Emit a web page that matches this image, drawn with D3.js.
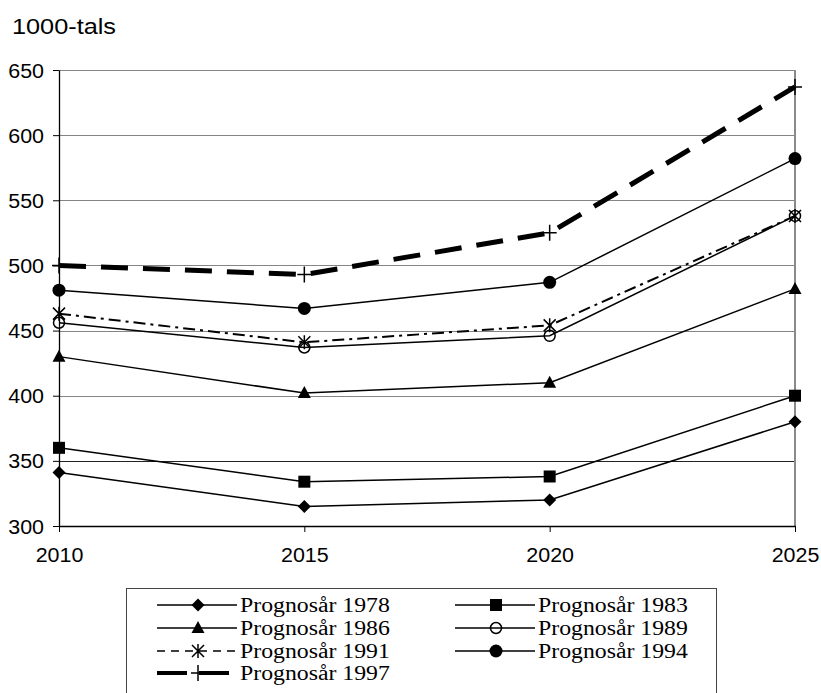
<!DOCTYPE html>
<html>
<head>
<meta charset="utf-8">
<script src="https://cdn.jsdelivr.net/npm/d3@7"></script>
<style>
  html, body { margin: 0; padding: 0; background: #fff; }
  svg { display: block; }
</style>
</head>
<body>
<script>
// Forecast values (thousands) per forecast year
const years = ["2010", "2015", "2020", "2025"];
const yTicks = [300, 350, 400, 450, 500, 550, 600, 650];
const unitLabel = "1000-tals";

const v1978 = [341, 315, 320, 380];
const v1983 = [360, 334, 338, 400];
const v1986 = [430, 402, 410, 482];
const v1989 = [456, 437, 446, 538];
const v1991 = [463, 441, 454, 538];
const v1994 = [481, 467, 487, 582];
const v1997 = [500, 493, 525, 637];

const seriesNames = ["Prognosår 1978", "Prognosår 1983", "Prognosår 1986", "Prognosår 1989",
                     "Prognosår 1991", "Prognosår 1994", "Prognosår 1997"];
const seriesValues = [v1978, v1983, v1986, v1989, v1991, v1994, v1997];

// Drawing style for each series (same order as names)
const styles = [
  { marker: "diamond",  width: 1.5, dash: null },
  { marker: "square",   width: 1.5, dash: null },
  { marker: "triangle", width: 1.5, dash: null },
  { marker: "ring",     width: 1.5, dash: null },
  { marker: "star",     width: 2,   dash: "12,5,3,5" },
  { marker: "dot",      width: 1.5, dash: null },
  { marker: "plus",     width: 5,   dash: "27,15" }
];

const W = 821, H = 693;
const sansFont = "'Liberation Sans', Arial, sans-serif";
const serifFont = "'Liberation Serif', 'Times New Roman', serif";

const svg = d3.select("body").append("svg")
  .attr("width", W).attr("height", H);

const x = d3.scalePoint().domain(years).range([59, 795]);
const y = d3.scaleLinear().domain([300, 650]).range([526, 70]);

// Horizontal gridlines
svg.append("g")
  .selectAll("line")
  .data(yTicks.filter(t => t > 300))
  .join("line")
  .attr("x1", x.range()[0]).attr("x2", x.range()[1])
  .attr("y1", d => Math.round(y(d)) + 0.5).attr("y2", d => Math.round(y(d)) + 0.5)
  .attr("stroke", d => d === 350 ? "#222" : "#858585")
  .attr("stroke-width", 1);

// Right frame edge
svg.append("line")
  .attr("x1", x.range()[1]).attr("x2", x.range()[1])
  .attr("y1", y(650)).attr("y2", y(300))
  .attr("stroke", "#8a8a8a").attr("stroke-width", 2);

// Y axis
const yAxis = svg.append("g")
  .attr("transform", `translate(${x.range()[0]},0)`)
  .call(d3.axisLeft(y).tickValues(yTicks).tickSize(6).tickSizeOuter(0).tickFormat(d3.format("d")));
yAxis.select(".domain").attr("stroke", "#000").attr("stroke-width", 1.3);
yAxis.selectAll(".tick line").attr("stroke", "#000");
yAxis.selectAll(".tick text")
  .attr("x", null).attr("dy", null)
  .attr("transform", "translate(-15,7) scale(1.1,1)")
  .attr("text-anchor", "end")
  .style("font-family", sansFont).style("font-size", "19.5px").attr("fill", "#000");

// X axis
const xAxis = svg.append("g")
  .attr("transform", `translate(0,${y(300)})`)
  .call(d3.axisBottom(x).tickSize(6).tickSizeOuter(0));
xAxis.select(".domain").attr("stroke", "#000").attr("stroke-width", 1.3);
xAxis.selectAll(".tick line").attr("stroke", "#000");
xAxis.selectAll(".tick text")
  .attr("y", null).attr("dy", null)
  .attr("transform", "translate(0,36) scale(1.1,1)")
  .attr("text-anchor", "middle")
  .style("font-family", sansFont).style("font-size", "19.5px").attr("fill", "#000");

// Unit label
svg.append("text")
  .attr("transform", "translate(12,34) scale(1.15,1)")
  .style("font-family", sansFont).style("font-size", "22px")
  .text(unitLabel);

// Marker shapes
function drawMarker(g, kind, cx, cy) {
  switch (kind) {
    case "diamond":
      g.append("path")
        .attr("d", `M${cx},${cy - 6.5}L${cx + 6.5},${cy}L${cx},${cy + 6.5}L${cx - 6.5},${cy}Z`)
        .attr("fill", "#000");
      break;
    case "square":
      g.append("rect").attr("x", cx - 6).attr("y", cy - 6).attr("width", 12).attr("height", 12)
        .attr("fill", "#000");
      break;
    case "triangle":
      g.append("path")
        .attr("d", `M${cx},${cy - 7}L${cx + 6.5},${cy + 5}L${cx - 6.5},${cy + 5}Z`)
        .attr("fill", "#000");
      break;
    case "ring":
      g.append("circle").attr("cx", cx).attr("cy", cy).attr("r", 5.5)
        .attr("fill", "none").attr("stroke", "#000").attr("stroke-width", 1.5);
      break;
    case "dot":
      g.append("circle").attr("cx", cx).attr("cy", cy).attr("r", 6.5).attr("fill", "#000");
      break;
    case "star":
      g.append("path")
        .attr("d", `M${cx - 6},${cy - 6}L${cx + 6},${cy + 6}M${cx - 6},${cy + 6}L${cx + 6},${cy - 6}M${cx},${cy - 7}L${cx},${cy + 7}`)
        .attr("fill", "none").attr("stroke", "#000").attr("stroke-width", 1.5);
      break;
    case "plus":
      g.append("path")
        .attr("d", `M${cx - 7},${cy}L${cx + 7},${cy}M${cx},${cy - 8}L${cx},${cy + 8}`)
        .attr("fill", "none").attr("stroke", "#000").attr("stroke-width", 1.5);
      break;
  }
}

// Series lines and markers
const line = d3.line().x((d, i) => x(years[i])).y(d => y(d));
const plot = svg.append("g");
seriesValues.forEach((vals, si) => {
  const st = styles[si];
  const g = plot.append("g");
  g.append("path")
    .datum(vals)
    .attr("d", line)
    .attr("fill", "none")
    .attr("stroke", "#000")
    .attr("stroke-width", st.width)
    .attr("stroke-dasharray", st.dash);
  vals.forEach((v, i) => drawMarker(g, st.marker, x(years[i]), y(v)));
});

// Legend
const legend = svg.append("g");
legend.append("rect")
  .attr("x", 126.5).attr("y", 588.5).attr("width", 590).attr("height", 130)
  .attr("fill", "#fff").attr("stroke", "#444").attr("stroke-width", 1);

const legendCols = [157, 455];
const legendRows = [605, 628, 651, 673];
seriesNames.forEach((name, si) => {
  const st = styles[si];
  const lx = legendCols[si % 2];
  const ly = legendRows[Math.floor(si / 2)];
  const g = legend.append("g");
  g.append("line")
    .attr("x1", lx).attr("x2", lx + 80).attr("y1", ly).attr("y2", ly)
    .attr("stroke", "#000").attr("stroke-width", st.width === 5 ? 4 : 1.3)
    .attr("stroke-dasharray", st.dash ? (st.width === 5 ? "30,12" : "8,6") : null);
  drawMarker(g, st.marker, lx + 41, ly);
  g.append("text")
    .attr("transform", `translate(${lx + 83},${ly + 7}) scale(1.16,1)`)
    .style("font-family", serifFont).style("font-size", "20.5px")
    .text(name);
});
</script>
</body>
</html>
